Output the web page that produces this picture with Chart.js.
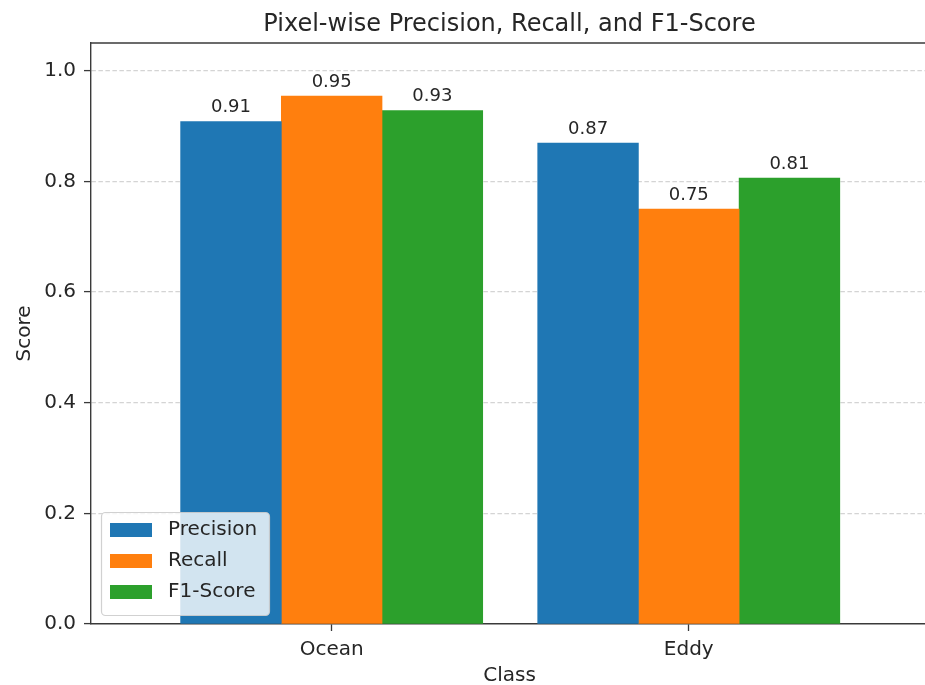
<!DOCTYPE html>
<html>
<head>
<meta charset="utf-8">
<title>Pixel-wise Precision, Recall, and F1-Score</title>
<script src="https://cdn.jsdelivr.net/npm/chart.js@4.4.1/dist/chart.umd.min.js"></script>
<style>
  html, body { margin: 0; padding: 0; background: #fff; overflow: hidden; }
  #wrap { width: 925px; height: 685px; overflow: hidden; }
  canvas { display: block; }
</style>
</head>
<body>
<div id="wrap"><canvas id="scoreChart" width="935" height="692"></canvas></div>
<script>
// ==============================
// DATA
// ==============================
const classes = ["Ocean", "Eddy"];
const precision = [0.908, 0.869];
const recall = [0.954, 0.750];
const f1Score = [0.928, 0.806];
const yTicks = [0.0, 0.2, 0.4, 0.6, 0.8, 1.0];

const seriesNames = ["Precision", "Recall", "F1-Score"];
const seriesColors = ["#1f77b4", "#ff7f0e", "#2ca02c"];

// bar width in class units, bars of one class sit side by side
const barWidth = 0.282;
const TEXT = "#262626";
const SPINE = "#3a3a3a";
const FONT = "'DejaVu Sans', sans-serif";

Chart.defaults.font.family = FONT;
Chart.defaults.color = TEXT;


// ==============================
// HELPERS
// ==============================
function toPoints(values, shift) {
  return values.map((v, i) => ({ x: i + shift, y: v }));
}


// ==============================
// PLUGINS (title, top spine, value labels, legend)
// ==============================
const titlePlugin = {
  id: "plotTitle",
  afterDraw(chart) {
    const { ctx, chartArea } = chart;
    ctx.save();
    ctx.font = "24px " + FONT;
    ctx.fillStyle = TEXT;
    ctx.textAlign = "center";
    ctx.textBaseline = "alphabetic";
    ctx.fillText("Pixel-wise Precision, Recall, and F1-Score", (chartArea.left + chartArea.right) / 2, 31);

    // top spine
    ctx.strokeStyle = SPINE;
    ctx.lineWidth = 1.4;
    ctx.beginPath();
    ctx.moveTo(chartArea.left, chartArea.top);
    ctx.lineTo(chartArea.right, chartArea.top);
    ctx.stroke();
    ctx.restore();
  }
};

const valueLabels = {
  id: "valueLabels",
  afterDatasetsDraw(chart) {
    const ctx = chart.ctx;
    ctx.save();
    ctx.font = "18px " + FONT;
    ctx.fillStyle = TEXT;
    ctx.textAlign = "center";
    ctx.textBaseline = "alphabetic";
    chart.data.datasets.forEach((ds, di) => {
      chart.getDatasetMeta(di).data.forEach((bar, i) => {
        ctx.fillText(ds.data[i].y.toFixed(2), bar.x, bar.y - 9.5);
      });
    });
    ctx.restore();
  }
};

const boxLegend = {
  id: "boxLegend",
  afterDraw(chart) {
    const { ctx, chartArea } = chart;
    const x = chartArea.left + 10;
    const y = chartArea.bottom - 112;
    const w = 168, h = 103;

    ctx.save();
    ctx.fillStyle = "rgba(255,255,255,0.8)";
    ctx.strokeStyle = "rgba(204,204,204,0.9)";
    ctx.lineWidth = 1.2;
    ctx.beginPath();
    ctx.roundRect(x + 0.5, y + 0.5, w, h, 4);
    ctx.fill();
    ctx.stroke();

    ctx.font = "20px " + FONT;
    ctx.textAlign = "left";
    ctx.textBaseline = "middle";
    chart.data.datasets.forEach((ds, i) => {
      const cy = y + 18 + i * 31;
      ctx.fillStyle = ds.backgroundColor;
      ctx.fillRect(x + 9, cy - 7, 42, 14);
      ctx.fillStyle = TEXT;
      ctx.fillText(ds.label, x + 67, cy);
    });
    ctx.restore();
  }
};


// ==============================
// CHART
// ==============================
const seriesValues = [precision, recall, f1Score];
const shifts = [-barWidth, 0, barWidth];

new Chart(document.getElementById("scoreChart"), {
  type: "bar",
  data: {
    datasets: seriesValues.map((vals, i) => ({
      label: seriesNames[i],
      data: toPoints(vals, shifts[i]),
      backgroundColor: seriesColors[i],
      borderWidth: 0,
      grouped: false,
      barPercentage: 1,
      categoryPercentage: 1
    }))
  },
  options: {
    responsive: false,
    animation: false,
    events: [],
    layout: { padding: { left: 0, right: 7, top: 43, bottom: 0 } },
    plugins: {
      legend: { display: false },
      tooltip: { enabled: false }
    },
    scales: {
      x: {
        type: "linear",
        min: -0.674,
        max: 1.67,
        offset: false,
        z: 1,
        afterBuildTicks: axis => {
          axis.ticks = classes.map((c, i) => ({ value: i }));
        },
        afterFit: axis => { axis.height = 68; },
        ticks: {
          font: { size: 20 },
          color: TEXT,
          padding: 7,
          maxRotation: 0,
          callback: value => classes[value]
        },
        grid: {
          offset: false,
          drawOnChartArea: false,
          drawTicks: true,
          tickLength: 7,
          tickColor: SPINE,
          tickWidth: 1.3
        },
        border: { display: true, color: SPINE, width: 1.4 },
        title: {
          display: true,
          text: "Class",
          font: { size: 20 },
          color: TEXT,
          padding: { top: 0, bottom: 4 }
        }
      },
      y: {
        min: 0,
        max: 1.05,
        z: 1,
        afterBuildTicks: axis => {
          axis.ticks = yTicks.map(v => ({ value: v }));
        },
        afterFit: axis => { axis.width = 91; },
        ticks: {
          font: { size: 20 },
          color: TEXT,
          padding: 8,
          callback: value => value.toFixed(1)
        },
        grid: {
          color: ctx => (ctx.tick && ctx.tick.value === 0 ? "rgba(0,0,0,0)" : "rgba(176,176,176,0.55)"),
          lineWidth: 1.2,
          drawTicks: true,
          tickLength: 7,
          tickColor: SPINE,
          tickWidth: 1.3
        },
        border: { display: true, color: SPINE, width: 1.4, dash: [4.5, 2.5] },
        title: {
          display: true,
          text: "Score",
          font: { size: 20 },
          color: TEXT,
          padding: { top: 13, bottom: 0 }
        }
      }
    }
  },
  plugins: [titlePlugin, valueLabels, boxLegend]
});
</script>
</body>
</html>
